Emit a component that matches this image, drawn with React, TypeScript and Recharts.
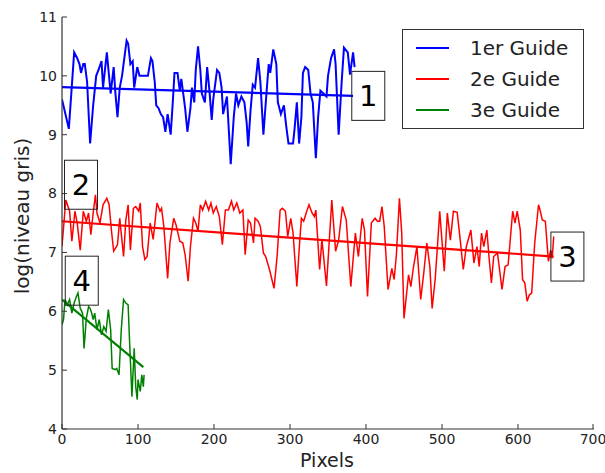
import React from 'react';
import { Label, Line, LineChart, ReferenceDot, XAxis, YAxis } from 'recharts';

// Profils de niveau de gris le long de chaque guide : [pixel, log(niveau gris)]
const guide1: [number, number][] = [
  [0, 9.6], [9, 9.1], [16, 10.4], [20, 10.3], [23, 10.2], [25, 10.05], [28, 10.2], [30, 10.2],
  [33, 9.9], [37, 8.85], [41, 9.5], [45, 10.0], [48, 10.1], [52, 10.25], [54, 9.8], [59, 10.4],
  [64, 9.7], [68, 10.15], [70, 9.75], [73, 9.3], [76, 9.8], [79, 10.0], [82, 10.3], [85, 10.6],
  [87, 10.55], [90, 10.2], [93, 10.25], [95, 9.8], [99, 10.15], [102, 10.0], [109, 10.0],
  [113, 10.0], [117, 10.3], [119, 10.25], [122, 9.9], [124, 9.5], [127, 9.45], [130, 9.35],
  [133, 9.3], [136, 9.05], [139, 9.35], [143, 9.0], [146, 9.6], [148, 10.05], [152, 10.05],
  [155, 9.75], [157, 9.95], [162, 9.45], [165, 9.05], [169, 9.45], [171, 9.8], [174, 9.55],
  [176, 10.1], [179, 10.5], [182, 10.1], [184, 9.7], [188, 9.55], [191, 10.15], [194, 9.75],
  [197, 9.25], [199, 9.6], [204, 10.1], [207, 10.05], [210, 9.8], [212, 9.35], [217, 9.65],
  [222, 8.5], [226, 9.3], [229, 9.7], [232, 9.5], [236, 9.65], [240, 9.55], [243, 9.2],
  [245, 8.8], [248, 9.4], [251, 9.85], [254, 9.8], [258, 10.3], [261, 9.9], [265, 9.0],
  [269, 9.7], [272, 10.2], [274, 10.05], [278, 10.45], [282, 10.2], [284, 9.55], [288, 9.35],
  [292, 9.5], [295, 9.15], [298, 8.85], [304, 8.85], [306, 9.1], [309, 9.55], [312, 8.85],
  [315, 9.3], [317, 10.05], [320, 10.15], [324, 10.1], [327, 9.7], [330, 9.55], [334, 8.6],
  [337, 9.3], [340, 9.75], [344, 9.7], [348, 9.65], [350, 10.0], [354, 10.3], [358, 10.45],
  [360, 10.2], [364, 9.0], [368, 9.9], [371, 10.48], [376, 10.4], [379, 10.02], [383, 10.4],
  [385, 10.15],
];

const guide2: [number, number][] = [
  [0, 7.1], [5, 7.89], [10, 7.7], [13, 7.19], [17, 7.7], [20, 7.5], [24, 7.04], [28, 7.7],
  [32, 7.53], [35, 7.67], [38, 7.3], [41, 7.67], [44, 7.98], [46, 7.67], [50, 7.5], [54, 7.81],
  [59, 7.92], [62, 7.81], [65, 7.38], [68, 7.02], [73, 7.13], [76, 7.58], [81, 6.93], [84, 7.55],
  [87, 7.81], [90, 7.04], [94, 7.75], [97, 7.78], [101, 7.7], [103, 7.84], [106, 7.1], [109, 6.88],
  [112, 6.93], [116, 7.5], [120, 7.22], [125, 7.84], [129, 7.7], [131, 7.75], [134, 7.44],
  [139, 6.56], [142, 7.16], [147, 7.58], [150, 7.47], [155, 7.19], [159, 7.16], [162, 6.96],
  [166, 6.51], [169, 7.1], [173, 7.58], [176, 7.5], [179, 7.36], [182, 7.81], [185, 7.72],
  [189, 7.87], [193, 7.72], [196, 7.84], [199, 7.67], [203, 7.78], [207, 7.61], [211, 7.13],
  [215, 7.72], [219, 7.72], [223, 7.87], [226, 7.72], [230, 7.84], [234, 7.67], [238, 7.72],
  [241, 6.96], [245, 7.55], [248, 7.5], [252, 7.16], [254, 7.58], [258, 7.53], [261, 7.44],
  [265, 6.99], [268, 6.93], [273, 6.71], [279, 6.39], [283, 6.93], [287, 7.72], [290, 7.75],
  [294, 7.7], [297, 7.27], [301, 7.58], [304, 7.33], [309, 6.42], [312, 7.04], [315, 7.58],
  [318, 7.53], [322, 7.7], [325, 7.81], [329, 7.67], [332, 7.61], [334, 7.72], [339, 6.71],
  [342, 7.22], [348, 6.43], [355, 7.89], [360, 7.02], [364, 7.21], [369, 7.78], [374, 7.55],
  [380, 6.42], [386, 7.33], [390, 6.93], [395, 7.58], [398, 7.38], [402, 6.25], [407, 7.5],
  [412, 7.58], [415, 7.53], [418, 7.53], [421, 7.78], [424, 7.44], [429, 6.37], [434, 6.73],
  [437, 6.54], [440, 6.96], [444, 7.92], [447, 7.33], [450, 5.88], [456, 6.62], [459, 6.42],
  [462, 6.71], [467, 7.1], [472, 6.2], [476, 6.65], [480, 7.16], [484, 6.76], [487, 6.05],
  [491, 6.54], [494, 7.1], [497, 7.7], [503, 6.68], [507, 7.67], [511, 7.21], [515, 7.7],
  [520, 7.68], [524, 7.21], [528, 6.71], [532, 7.1], [538, 7.38], [542, 6.82], [546, 7.1],
  [549, 6.76], [552, 7.33], [555, 7.1], [559, 7.38], [562, 6.9], [565, 6.48], [568, 6.93],
  [573, 6.99], [579, 6.37], [583, 6.76], [587, 6.79], [593, 7.7], [596, 7.5], [599, 7.7],
  [603, 7.38], [606, 6.54], [609, 6.48], [612, 6.17], [615, 6.28], [618, 6.31], [622, 7.16],
  [627, 7.81], [629, 7.72], [632, 7.55], [636, 7.53], [640, 6.85], [643, 7.04], [645, 6.9],
  [647, 7.27],
];

const guide3: [number, number][] = [
  [0, 5.77], [2, 5.86], [4, 6.2], [7, 6.11], [10, 6.2], [13, 5.97], [16, 6.14], [19, 6.25],
  [21, 6.31], [24, 6.05], [27, 5.97], [29, 5.37], [32, 5.88], [35, 6.08], [37, 6.05], [39, 5.97],
  [41, 5.86], [43, 5.97], [46, 5.69], [49, 5.86], [52, 5.6], [55, 5.74], [58, 5.66], [61, 6.03],
  [64, 5.69], [66, 5.03], [70, 5.01], [72, 5.03], [75, 4.92], [78, 5.69], [81, 6.2], [84, 6.14],
  [87, 6.11], [89, 5.46], [92, 4.55], [95, 5.37], [97, 4.72], [99, 4.5], [100, 4.84],
  [103, 4.64], [105, 4.92], [107, 4.72], [108, 4.92],
];

// Droites de régression
const fit1: [number, number][] = [[0, 9.81], [383, 9.66]];
const fit2: [number, number][] = [[0, 7.53], [647, 6.93]];
const fit3: [number, number][] = [[0, 6.2], [107, 5.05]];

const xTicks = [0, 100, 200, 300, 400, 500, 600, 700];
const yTicks = [4, 5, 6, 7, 8, 9, 10, 11];

const legendItems = [
  { label: '1er Guide', color: '#0000ff' },
  { label: '2e Guide', color: '#ff0000' },
  { label: '3e Guide', color: '#008000' },
];

const boxes = [
  { text: '1', x: 403, y: 9.66 },
  { text: '2', x: 25, y: 8.15 },
  { text: '3', x: 665, y: 6.93 },
  { text: '4', x: 26, y: 6.52 },
];

const FONT = '"DejaVu Sans", sans-serif';
const AXIS = '#333';

const toPoints = (rows: [number, number][]) => rows.map(([x, y]) => ({ x, y }));

const BottomTick = ({ x, y, payload }: any) => (
  <g>
    <line x1={x} y1={y} x2={x} y2={y - 5} stroke={AXIS} />
    <text x={x} y={y + 15} textAnchor="middle" fontSize={14} fill="#222" fontFamily={FONT}>
      {payload.value}
    </text>
  </g>
);

const LeftTick = ({ x, y, payload }: any) => (
  <g>
    <line x1={x} y1={y} x2={x + 5} y2={y} stroke={AXIS} />
    <text x={x - 5} y={y} dy="0.35em" textAnchor="end" fontSize={14} fill="#222" fontFamily={FONT}>
      {payload.value}
    </text>
  </g>
);

const TopTick = ({ x, y }: any) => <line x1={x} y1={y} x2={x} y2={y + 5} stroke={AXIS} />;
const RightTick = ({ x, y }: any) => <line x1={x} y1={y} x2={x - 5} y2={y} stroke={AXIS} />;

const NumberBox = (text: string) => (props: any) => {
  const { cx, cy } = props;
  return (
    <g>
      <rect x={cx - 16.5} y={cy - 24.5} width={33} height={49} fill="none" stroke="#222" strokeWidth={1} />
      <text x={cx} y={cy} dy="0.36em" textAnchor="middle" fontSize={29} fill="#000" fontFamily={FONT}>
        {text}
      </text>
    </g>
  );
};

export default function App() {
  return (
    <div style={{ position: 'absolute', left: 0, top: 0, width: 605, height: 473, background: '#fff' }}>
      <LineChart width={605} height={473} margin={{ top: 17, right: 11, bottom: 0, left: 0 }}>
        <XAxis
          dataKey="x"
          type="number"
          domain={[0, 700]}
          ticks={xTicks}
          height={44}
          tickSize={0}
          tickMargin={0}
          tick={<BottomTick />}
          axisLine={{ stroke: AXIS, strokeWidth: 1.2 }}
          allowDataOverflow
        >
          <Label
            content={() => (
              <text x={327} y={467} textAnchor="middle" fontSize={19} fill="#222" fontFamily={FONT}>
                Pixels
              </text>
            )}
          />
        </XAxis>
        <XAxis
          xAxisId="top"
          orientation="top"
          type="number"
          domain={[0, 700]}
          ticks={xTicks}
          height={0}
          tickSize={0}
          tickMargin={0}
          tick={<TopTick />}
          axisLine={{ stroke: AXIS, strokeWidth: 1.2 }}
        />
        <YAxis
          type="number"
          domain={[4, 11]}
          ticks={yTicks}
          width={62}
          tickSize={0}
          tickMargin={0}
          tick={<LeftTick />}
          axisLine={{ stroke: AXIS, strokeWidth: 1.2 }}
          allowDataOverflow
        >
          <Label
            content={() => (
              <text
                x={29}
                y={216}
                textAnchor="middle"
                fontSize={20}
                fill="#222"
                fontFamily={FONT}
                transform="rotate(-90 29 216)"
              >
                log(niveau gris)
              </text>
            )}
          />
        </YAxis>
        <YAxis
          yAxisId="right"
          orientation="right"
          type="number"
          domain={[4, 11]}
          ticks={yTicks}
          width={0}
          tickSize={0}
          tickMargin={0}
          tick={<RightTick />}
          axisLine={{ stroke: AXIS, strokeWidth: 1.2 }}
        />

        <Line data={toPoints(guide1)} dataKey="y" stroke="#0000ff" strokeWidth={2} dot={false} isAnimationActive={false} />
        <Line data={toPoints(guide2)} dataKey="y" stroke="#ff0000" strokeWidth={1.5} dot={false} isAnimationActive={false} />
        <Line data={toPoints(guide3)} dataKey="y" stroke="#008000" strokeWidth={1.5} dot={false} isAnimationActive={false} />
        <Line data={toPoints(fit1)} dataKey="y" stroke="#0000ff" strokeWidth={2.2} dot={false} isAnimationActive={false} />
        <Line data={toPoints(fit2)} dataKey="y" stroke="#ff0000" strokeWidth={2.2} dot={false} isAnimationActive={false} />
        <Line data={toPoints(fit3)} dataKey="y" stroke="#008000" strokeWidth={2.2} dot={false} isAnimationActive={false} />

        {boxes.map((b) => (
          <ReferenceDot key={b.text} x={b.x} y={b.y} r={1} shape={NumberBox(b.text)} />
        ))}
      </LineChart>

      <div
        style={{
          position: 'absolute',
          left: 402,
          top: 29,
          width: 182,
          height: 100,
          boxSizing: 'border-box',
          border: `1.2px solid ${AXIS}`,
          background: '#fff',
          fontFamily: FONT,
          fontSize: 20,
          color: '#222',
        }}
      >
        {legendItems.map((item, i) => (
          <div key={item.label} style={{ position: 'absolute', left: 0, top: 4 + i * 31, height: 28, width: '100%' }}>
            <span
              style={{
                position: 'absolute',
                left: 13,
                top: 13,
                width: 33,
                height: 2,
                background: item.color,
              }}
            />
            <span style={{ position: 'absolute', left: 67, top: 1, whiteSpace: 'nowrap', lineHeight: '26px' }}>
              {item.label}
            </span>
          </div>
        ))}
      </div>
    </div>
  );
}
